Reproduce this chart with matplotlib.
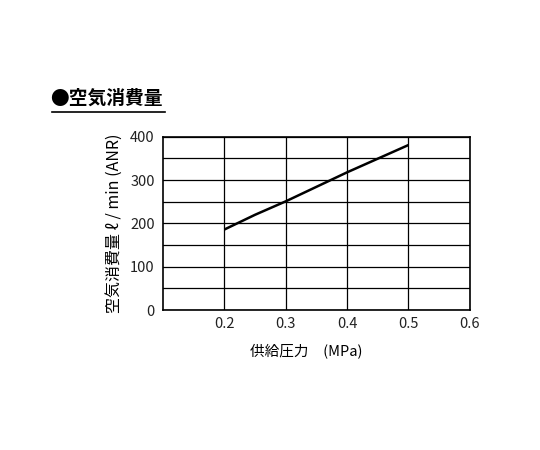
import matplotlib.pyplot as plt
from matplotlib.lines import Line2D

plt.rcParams['font.family'] = ['Noto Sans CJK JP', 'DejaVu Sans']

# data
pressure = [0.2, 0.25, 0.3, 0.4, 0.5]
consumption = [186, 220, 251, 318, 381]
x_ticks = [0.2, 0.3, 0.4, 0.5, 0.6]
y_ticks = [0, 100, 200, 300, 400]

fig = plt.figure(figsize=(5.4, 4.5), dpi=100)
ax = fig.add_axes([0.302, 0.311, 0.568, 0.385])

ax.plot(pressure, consumption, color='black', lw=1.8, solid_capstyle='butt')
ax.set_xlim(0.1, 0.6)
ax.set_ylim(0, 400)
ax.set_xticks(x_ticks)
ax.set_yticks(y_ticks)
ax.set_yticks(range(0, 401, 50), minor=True)
ax.grid(True, which='both', color='black', lw=0.9)
ax.tick_params(which='both', length=0, labelsize=10.5, colors='#222222')
ax.tick_params(axis='x', pad=5)
ax.tick_params(axis='y', pad=6)
for s in ax.spines.values():
    s.set_linewidth(1.2)

ax.set_xlabel('供給圧力　(MPa)', fontsize=10.5, labelpad=9, x=0.466)
ax.set_ylabel('空気消費量 ℓ / min (ANR)', fontsize=11.5, labelpad=5)

fig.text(0.093, 0.782, '●空気消費量', fontsize=13.5, fontweight='bold', va='center')
fig.add_artist(Line2D([0.096, 0.305], [0.752, 0.752], color='black', lw=1.2,
                      transform=fig.transFigure))

fig.savefig('out.png', dpi=100)
